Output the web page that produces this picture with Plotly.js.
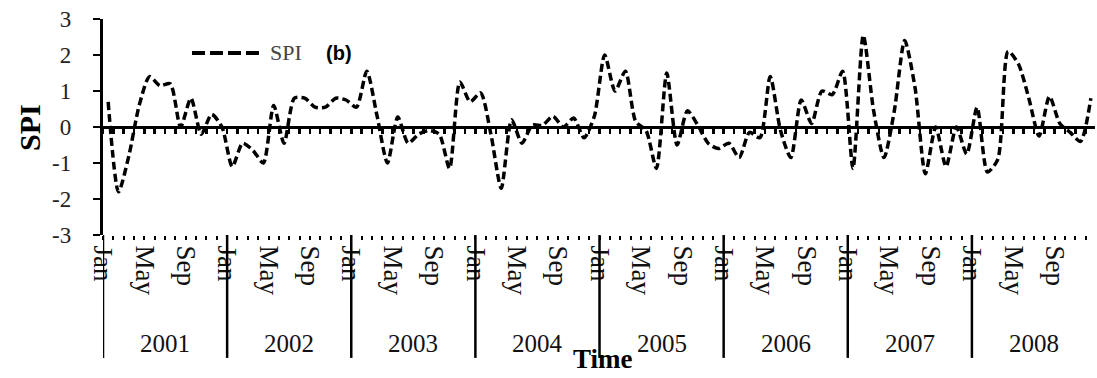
<!DOCTYPE html>
<html>
<head>
<meta charset="utf-8">
<script src="https://cdn.plot.ly/plotly-3.0.1.min.js"></script>
<style>html,body{margin:0;padding:0;background:#fff;}</style>
</head>
<body>
<div id="chart" style="width:1097px;height:378px;"></div>
<script>
// ---- data ----
const years = [2001, 2002, 2003, 2004, 2005, 2006, 2007, 2008];
const tickMonths = ['Jan', 'May', 'Sep'];
const tickMonthIdx = [0, 4, 8];
const yTickVals = [-3, -2, -1, 0, 1, 2, 3];
const yTickText = ['-3', '-2', '-1', '0', '1', '2', '3'];

const spi2001 = [0.7, -1.8, -0.8, 0.6, 1.4, 1.15, 1.2, 0.0, 0.8, -0.2, 0.35, 0.0];
const spi2002 = [-1.1, -0.45, -0.65, -1.0, 0.6, -0.45, 0.8, 0.8, 0.55, 0.55, 0.8, 0.75];
const spi2003 = [0.55, 1.55, 0.3, -1.0, 0.28, -0.45, -0.2, -0.1, -0.2, -1.15, 1.25, 0.7];
const spi2004 = [0.95, -0.2, -1.7, 0.2, -0.45, 0.05, 0.05, 0.3, 0.0, 0.25, -0.3, 0.3];
const spi2005 = [2.0, 1.0, 1.55, 0.15, -0.1, -1.15, 1.5, -0.5, 0.45, 0.05, -0.45, -0.6];
const spi2006 = [-0.45, -0.85, -0.15, -0.3, 1.4, -0.1, -0.85, 0.75, 0.1, 1.0, 0.9, 1.55];
const spi2007 = [-1.15, 2.55, 0.45, -0.85, 0.45, 2.4, 1.1, -1.3, 0.0, -1.1, 0.0, -0.75];
const spi2008 = [0.55, -1.25, -0.9, 2.1, 1.75, 0.8, -0.25, 0.85, 0.1, -0.15, -0.4, 0.8];

const spi = [].concat(spi2001, spi2002, spi2003, spi2004, spi2005, spi2006, spi2007, spi2008);
const monthIndex = spi.map((_, i) => i);

// tick labels (Jan / May / Sep of every year)
const tickvals = [], ticktext = [];
years.forEach((y, k) => {
  tickMonthIdx.forEach((mi, j) => {
    tickvals.push(12 * k + mi - 0.5);
    ticktext.push(tickMonths[j]);
  });
});
const pad = '\u00a0\u00a0\u00a0';
const yTickTextPadded = yTickText.map(t => t + pad);

const serif = 'Liberation Serif, Times New Roman, serif';
const xr = [-0.5, 95.4];

const trace = {
  x: monthIndex, y: spi, type: 'scatter', mode: 'lines', name: 'SPI',
  line: {color: '#000', width: 3.5, dash: '8px,4px', shape: 'spline', smoothing: 0.7},
  showlegend: false, hoverinfo: 'x+y'
};
// same series bound to the zero-line axis so that this axis is drawn
const traceZeroAxis = {
  x: monthIndex, y: spi, type: 'scatter', mode: 'lines', xaxis: 'x2', yaxis: 'y',
  line: {color: 'rgba(0,0,0,0)', width: 1}, opacity: 0, showlegend: false, hoverinfo: 'skip'
};

const shapes = [];
const annotations = [];
years.forEach((y, k) => {
  shapes.push({type: 'line', xref: 'x', yref: 'paper', x0: 12 * k - 0.5, x1: 12 * k - 0.5,
    y0: 0, y1: -0.569, line: {color: '#000', width: 2.5}});
  annotations.push({xref: 'x', yref: 'paper', x: 12 * k + 5.5, y: -0.5, text: String(y),
    showarrow: false, xanchor: 'center', yanchor: 'middle',
    font: {family: serif, size: 25, color: '#111'}});
});

// legend (manual)
shapes.push({type: 'line', xref: 'paper', yref: 'paper', x0: 0.0897, x1: 0.158, y0: 0.8426, y1: 0.8426,
  line: {color: '#000', width: 4, dash: '13px,5px'}});
annotations.push({xref: 'paper', yref: 'paper', x: 0.166, y: 0.8426, text: 'SPI', showarrow: false,
  xanchor: 'left', yanchor: 'middle', font: {family: serif, size: 22, color: '#444'}});
annotations.push({xref: 'paper', yref: 'paper', x: 0.2228, y: 0.8426, text: '<b>(b)</b>', showarrow: false,
  xanchor: 'left', yanchor: 'middle', font: {family: 'Liberation Sans, Arial, sans-serif', size: 20, color: '#000'}});

// axis titles
annotations.push({xref: 'paper', yref: 'paper', x: 0.504, y: -0.575, text: '<b>Time</b>', showarrow: false,
  xanchor: 'center', yanchor: 'middle', font: {family: serif, size: 27, color: '#000'}});
annotations.push({xref: 'paper', yref: 'paper', x: -0.0746, y: 0.5, text: '<b>SPI</b>', showarrow: false,
  textangle: -90, xanchor: 'center', yanchor: 'middle', font: {family: serif, size: 30, color: '#000'}});

const layout = {
  width: 1097, height: 378,
  margin: {l: 103, r: 2, t: 19, b: 143},
  paper_bgcolor: '#fff', plot_bgcolor: '#fff',
  showlegend: false,
  xaxis: {
    range: xr, tickmode: 'array', tickvals: tickvals, ticktext: ticktext, tickangle: 90,
    ticks: 'outside', ticklen: 4, tickwidth: 2, tickcolor: '#000',
    showline: false, showgrid: false, zeroline: false,
    tickfont: {family: serif, size: 27, color: '#111'},
    minor: {tickmode: 'linear', tick0: -0.5, dtick: 1, ticks: 'outside', ticklen: 4, tickwidth: 2, tickcolor: '#000', showgrid: false}
  },
  xaxis2: {
    overlaying: 'x', anchor: 'free', position: 0.5, side: 'bottom', range: xr,
    showline: true, linecolor: '#000', linewidth: 3,
    tickmode: 'linear', tick0: -0.5, dtick: 1, ticks: 'outside', ticklen: 5, tickwidth: 2.5, tickcolor: '#000',
    showticklabels: false, showgrid: false, zeroline: false
  },
  yaxis: {
    range: [-3, 3], tickmode: 'array', tickvals: yTickVals, ticktext: yTickTextPadded,
    showline: true, linecolor: '#000', linewidth: 3,
    ticks: 'outside', ticklen: 7, tickwidth: 2, tickcolor: '#000',
    showgrid: false, zeroline: false,
    tickfont: {family: serif, size: 23, color: '#222'}
  },
  shapes: shapes,
  annotations: annotations
};

Plotly.newPlot('chart', [trace, traceZeroAxis], layout, {displayModeBar: false, staticPlot: true});
</script>
</body>
</html>
